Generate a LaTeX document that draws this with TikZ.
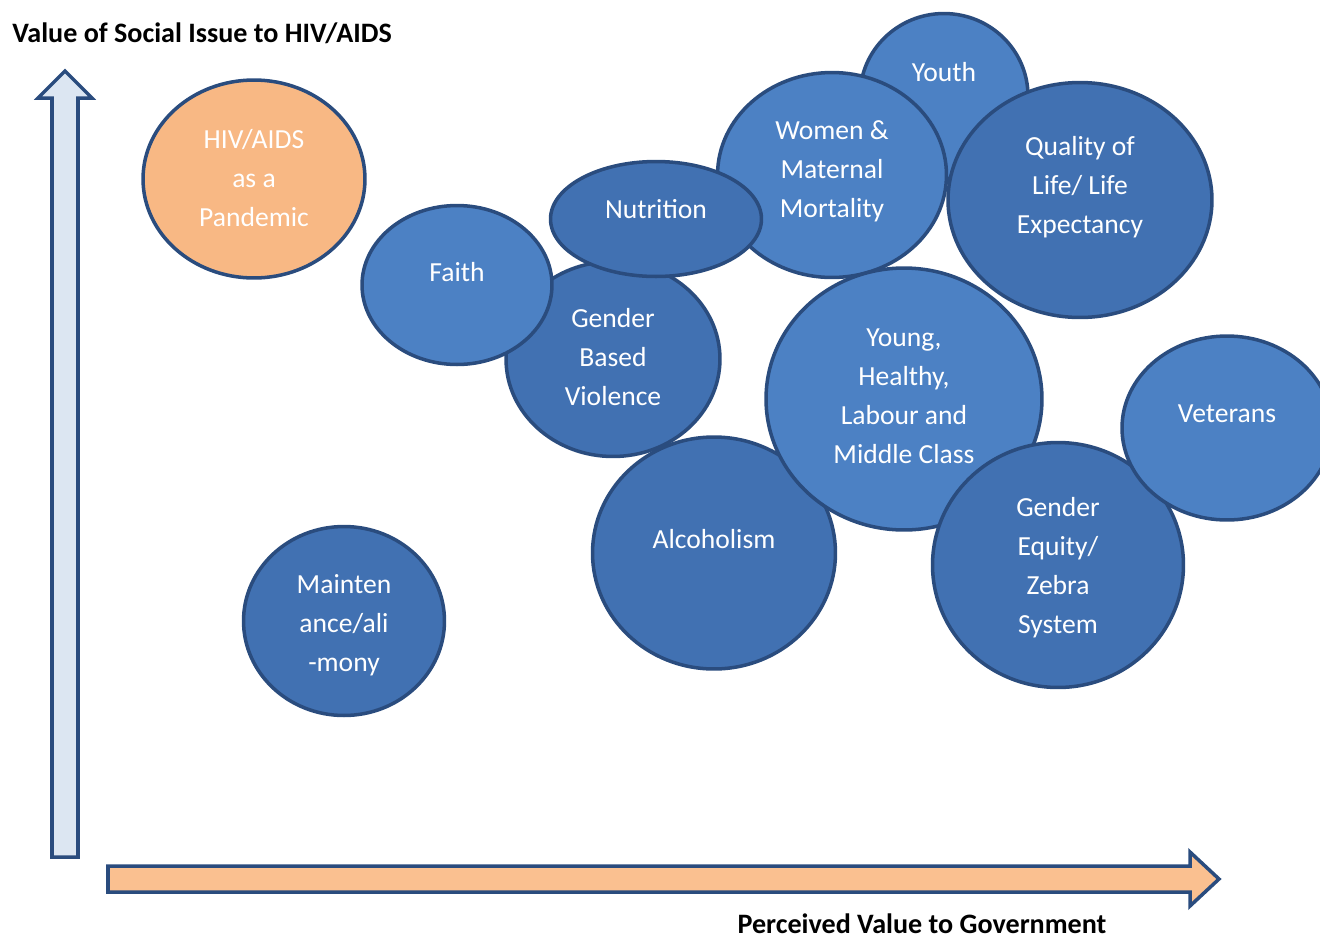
\documentclass[tikz,border=0pt]{standalone}
\usepackage{fontspec}
\setmainfont{Carlito}
\usepackage{tikz}
\usetikzlibrary{shapes.geometric}

\definecolor{BubbleBlue}{RGB}{76,129,196}
\definecolor{BubbleDark}{RGB}{65,113,178}
\definecolor{BubbleEdge}{RGB}{42,76,126}
\definecolor{PandemicOrange}{RGB}{248,184,132}
\definecolor{AxisBlue}{RGB}{220,230,242}
\definecolor{AxisOrange}{RGB}{250,192,144}

\begin{document}
\begin{tikzpicture}[x=0.02cm, y=-0.02cm,
  bubble/.style={ellipse, draw=BubbleEdge, line width=2pt, fill=BubbleBlue, inner sep=0pt},
  darkbubble/.style={bubble, fill=BubbleDark},
  bubbletext/.style={text=white, align=center, font=\fontsize{15.7}{22.2}\selectfont},
  axislabel/.style={font=\fontsize{16}{19}\selectfont\bfseries, inner sep=0pt}]
  \useasboundingbox (0,0) rectangle (1320,941);

  % axes
  \draw[draw=BubbleEdge, line width=2pt, fill=AxisBlue] (52,857) -- (52,98) -- (38,98) -- (65,71)
    -- (92,98) -- (78,98) -- (78,857) -- cycle;
  \draw[draw=BubbleEdge, line width=2pt, fill=AxisOrange] (108,866) -- (1190,866) -- (1190,852) -- (1219,879)
    -- (1190,906) -- (1190,892) -- (108,892) -- cycle;
  \node[axislabel, anchor=west] (yaxis) at (12,33) {Value of Social Issue to HIV/AIDS};
  \node[axislabel] (xaxis) at (922,924) {Perceived Value to Government};

  % bubbles, back to front
  \node[bubble, minimum width=3.36cm, minimum height=3.3cm] (youth) at (944,96) {};
  \node[bubble, minimum width=4.58cm, minimum height=4.1cm] (women) at (832,175) {};
  \node[darkbubble, minimum width=5.28cm, minimum height=4.7cm] (quality) at (1080,200) {};
  \node[darkbubble, minimum width=4.28cm, minimum height=3.9cm] (gbv) at (613,359) {};
  \node[bubble, minimum width=3.8cm, minimum height=3.18cm] (faith) at (457,285) {};
  \node[darkbubble, minimum width=4.22cm, minimum height=2.3cm] (nutrition) at (656,219) {};
  \node[darkbubble, minimum width=4.86cm, minimum height=4.64cm] (alcohol) at (714,553) {};
  \node[bubble, minimum width=5.52cm, minimum height=5.24cm] (young) at (904,399) {};
  \node[darkbubble, minimum width=5.02cm, minimum height=4.9cm] (equity) at (1058,565) {};
  \node[bubble, minimum width=4.2cm, minimum height=3.68cm] (veterans) at (1227,428) {};
  \node[bubble, fill=PandemicOrange, minimum width=4.44cm, minimum height=3.96cm] (hiv) at (254,179) {};
  \node[darkbubble, minimum width=4.02cm, minimum height=3.78cm] (maint) at (344,621) {};

  % labels
  \node[bubbletext] (youth text) at (944,72) {Youth};
  \node[bubbletext] (women text) at (832,171) {Women \&\\Maternal\\Mortality};
  \node[bubbletext] (quality text) at (1080,187) {Quality of\\Life/ Life\\Expectancy};
  \node[bubbletext] (gbv text) at (613,357) {Gender\\Based\\Violence};
  \node[bubbletext] (faith text) at (457,272) {Faith};
  \node[bubbletext] (nutrition text) at (656,209) {Nutrition};
  \node[bubbletext] (alcohol text) at (714,539) {Alcoholism};
  \node[bubbletext] (young text) at (904,396) {Young,\\Healthy,\\Labour and\\Middle Class};
  \node[bubbletext] (equity text) at (1058,568) {Gender\\Equity/\\Zebra\\System};
  \node[bubbletext] (veterans text) at (1227,414) {Veterans};
  \node[bubbletext] (hiv text) at (254,178) {HIV/AIDS\\as a\\Pandemic};
  \node[bubbletext] (maint text) at (344,625) {Mainten\\ance/ali\\-mony};
\end{tikzpicture}
\end{document}
